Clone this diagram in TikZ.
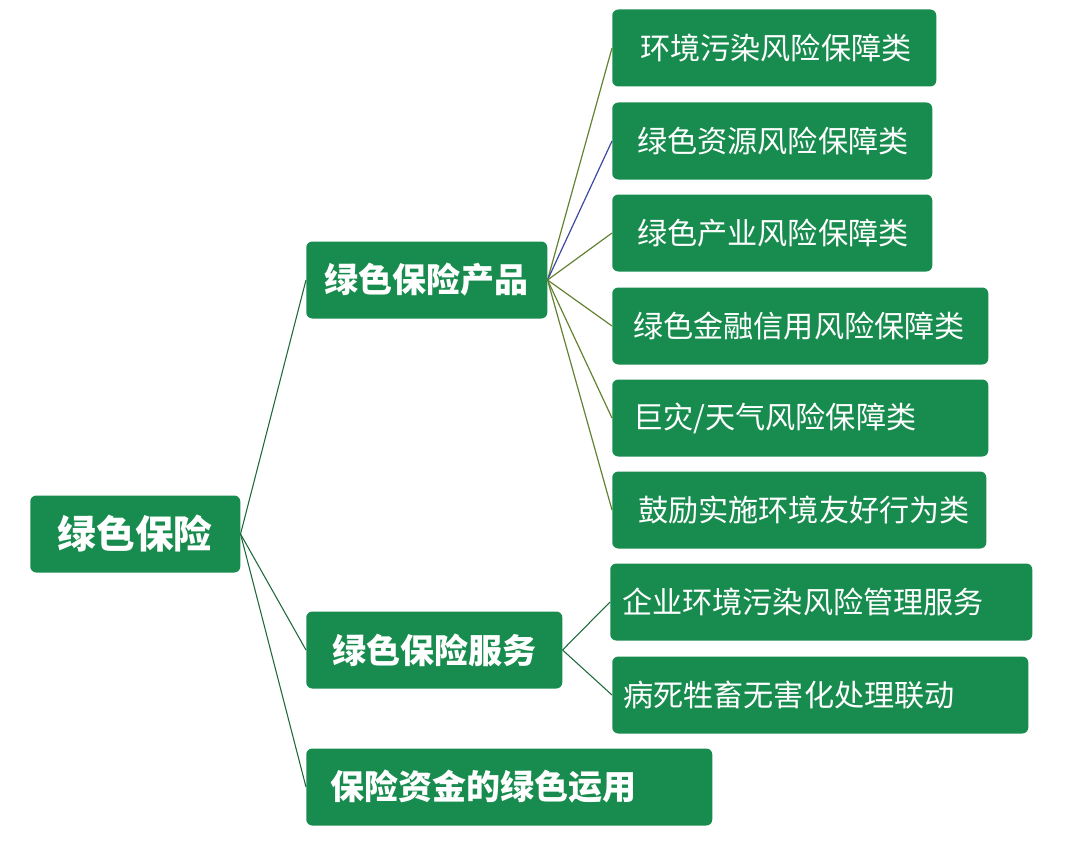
\documentclass[tikz,border=0pt]{standalone}
\usepackage{fontspec}
\newfontfamily\cjk{Noto Sans CJK SC}
\usetikzlibrary{positioning}

\definecolor{boxgreen}{RGB}{24,140,78}
\definecolor{stemgreen}{RGB}{30,105,60}
\definecolor{twiggreen}{RGB}{100,130,50}
\definecolor{twigblue}{RGB}{60,75,160}

\tikzset{
  gbox/.style={rectangle,rounded corners=4.5pt,fill=boxgreen,text=white,
    minimum height=57.75pt,inner xsep=0pt,anchor=west},
  leaf/.style={gbox,align=left,font=\cjk\fontsize{22.6}{24}\selectfont},
  mid/.style={gbox,font=\cjk\bfseries\fontsize{25.5}{27}\selectfont},
  stem/.style={draw=stemgreen,line width=0.8pt},
  twig/.style={draw=twiggreen,line width=0.9pt}
}

\begin{document}
\begin{tikzpicture}[x=0.75pt,y=-0.75pt]
\useasboundingbox (0,0) rectangle (1080,845);

% root
\node[gbox,minimum width=157.5pt,font=\cjk\bfseries\fontsize{29}{31}\selectfont](root) at (30,534) {绿色保险};

% second level
\node[mid,minimum width=180.75pt](prod) at (306,280) {绿色保险产品};
\node[mid,minimum width=192pt](serv) at (306,650) {绿色保险服务};
\node[mid,text width=268.5pt,inner xsep=18pt,align=left](fund) at (306,787) {保险资金的绿色运用};

% products
\node[leaf,inner xsep=21pt,text width=201pt](p1) at (612,48) {环境污染风险保障类};
\node[leaf,inner xsep=18.75pt,text width=202.5pt](p2) at (612,141) {绿色资源风险保障类};
\node[leaf,inner xsep=18.75pt,text width=202.5pt](p3) at (612,233) {绿色产业风险保障类};
\node[leaf,inner xsep=15.75pt,text width=250.5pt](p4) at (612,326) {绿色金融信用风险保障类};
\node[leaf,inner xsep=15.75pt,text width=250.5pt](p5) at (612,418) {巨灾/天气风险保障类};
\node[leaf,inner xsep=19.5pt,text width=241.5pt](p6) at (612,510) {鼓励实施环境友好行为类};

% services
\node[leaf,inner xsep=9pt,text width=298.5pt](s1) at (610,602) {企业环境污染风险管理服务};
\node[leaf,inner xsep=8.25pt,text width=295.5pt](s2) at (612,695) {病死牲畜无害化处理联动};

\draw[stem](root.east)--(prod.west);
\draw[stem](root.east)--(serv.west);
\draw[stem](root.east)--(fund.west);

\draw[twig](prod.east)--(p1.west);
\draw[twig,draw=twigblue](prod.east)--(p2.west);
\draw[twig](prod.east)--(p3.west);
\draw[twig](prod.east)--(p4.west);
\draw[twig](prod.east)--(p5.west);
\draw[twig](prod.east)--(p6.west);

\draw[stem](serv.east)--(s1.west);
\draw[stem](serv.east)--(s2.west);
\end{tikzpicture}
\end{document}
